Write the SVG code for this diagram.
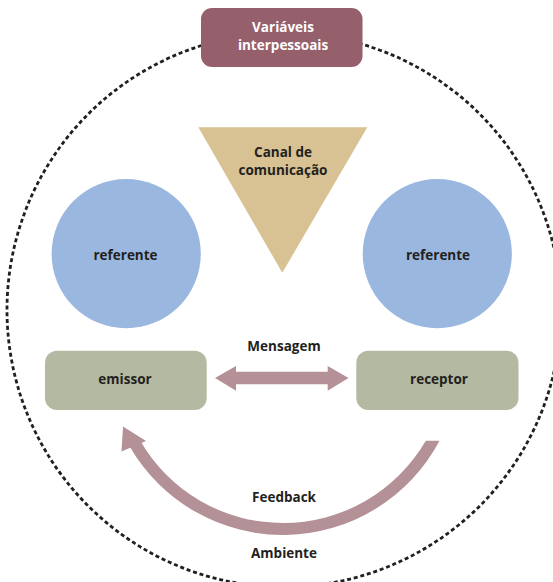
<svg xmlns="http://www.w3.org/2000/svg" width="553" height="582" viewBox="0 0 553 582">
<style>
text { font-family: "Open Sans", "Liberation Sans", sans-serif; font-weight: bold; font-size: 13.5px; fill: #231f20; text-anchor: middle; }
.light { fill: #ffffff; }
.ref { fill: #9ab8df; }
.box { fill: #b3baa1; }
.arrow { fill: #b49097; }
</style>
<rect width="553" height="582" fill="#ffffff"/>
<g id="ambiente">
<circle cx="284" cy="310" r="277" fill="none" stroke="#231f20" stroke-width="2.8" stroke-dasharray="4 2.8"/>
<text x="284" y="557.5">Ambiente</text>
</g>
<g id="variaveis">
<rect x="201" y="8" width="161.5" height="59" rx="11" fill="#955f6c"/>
<text class="light" x="283" y="32.3">Variáveis</text>
<text class="light" x="283" y="50">interpessoais</text>
</g>
<g id="canal">
<polygon points="198.3,127.3 367.3,127.3 282.3,272.7" fill="#d8c293"/>
<text x="283" y="157.3">Canal de</text>
<text x="283" y="175">comunicação</text>
</g>
<g id="referente-esq">
<circle class="ref" cx="126.2" cy="253.7" r="74.6"/>
<text x="125.5" y="260">referente</text>
</g>
<g id="referente-dir">
<circle class="ref" cx="437.3" cy="253.7" r="74.6"/>
<text x="438" y="260">referente</text>
</g>
<g id="emissor">
<rect class="box" x="45" y="350.7" width="161.7" height="59.3" rx="12"/>
<text x="125" y="383.5">emissor</text>
</g>
<g id="receptor">
<rect class="box" x="356.3" y="350.7" width="162.2" height="59.3" rx="12"/>
<text x="439" y="383.5">receptor</text>
</g>
<g id="connectors">
<polygon class="arrow" points="215,378 236,366 236,371.7 327.7,371.7 327.7,366 348.5,378 327.7,390.7 327.7,384.3 236,384.3 236,390.7"/>
<text x="284" y="350.7">Mensagem</text>
<path class="arrow" d="M 439.5 440.7 A 177 177 0 0 1 129.7 446.5 L 140.1 440.5 A 165 165 0 0 0 425.8 440.7 Z"/>
<polygon class="arrow" points="123,426.5 121.5,451.5 146,441"/>
<text x="284" y="502.3">Feedback</text>
</g>
</svg>
